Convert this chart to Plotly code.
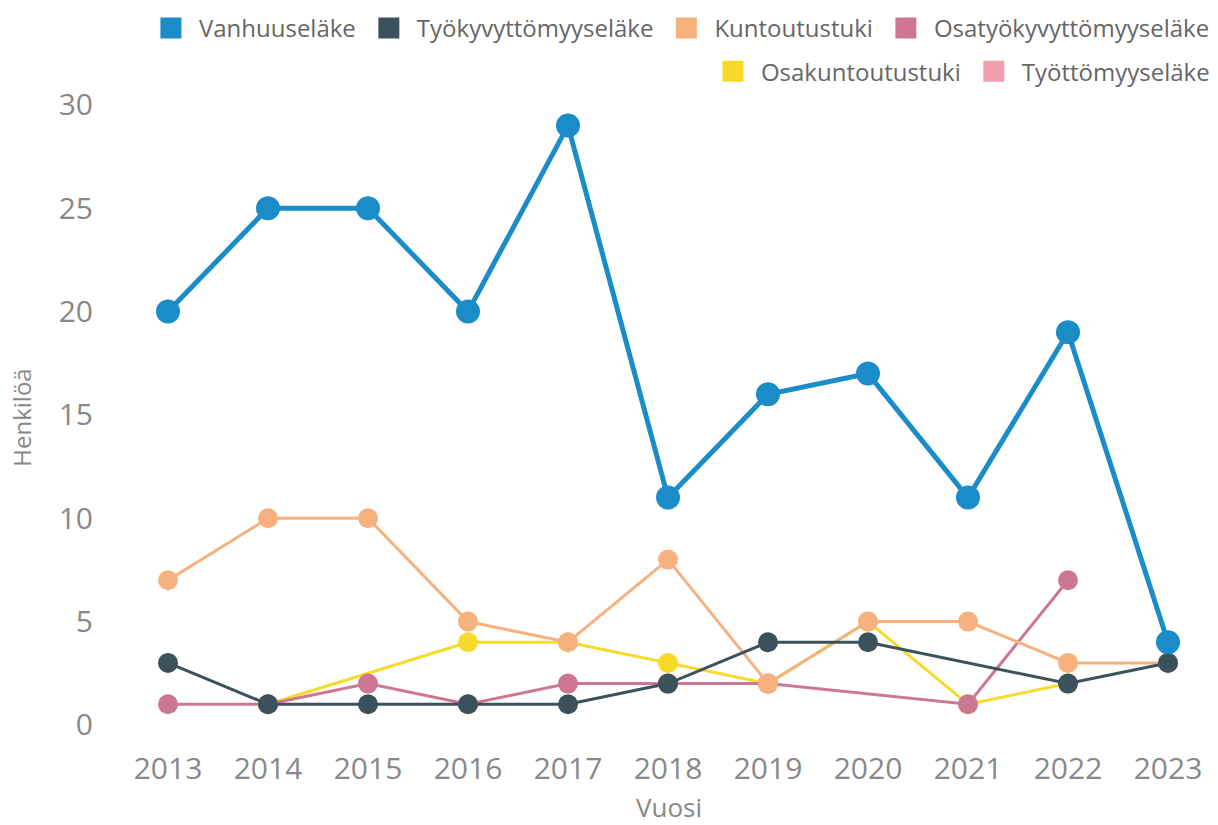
import plotly.graph_objects as go

years = [2013, 2014, 2015, 2016, 2017, 2018, 2019, 2020, 2021, 2022, 2023]

vanhuuselake = [20, 25, 25, 20, 29, 11, 16, 17, 11, 19, 4]
tyokyvyttomyyselake = [3, 1, 1, 1, 1, 2, 4, 4, None, 2, 3]
kuntoutustuki = [7, 10, 10, 5, 4, 8, 2, 5, 5, 3, 3]
osatyokyvyttomyyselake = [1, 1, 2, 1, 2, 2, 2, None, 1, 7, None]
osakuntoutustuki = [None, 1, None, 4, 4, 3, 2, 5, 1, 2, None]
tyottomyyselake = [None] * 11

names = ["Vanhuuseläke", "Työkyvyttömyyseläke", "Kuntoutustuki",
         "Osatyökyvyttömyyseläke", "Osakuntoutustuki", "Työttömyyseläke"]
colors = ["#1a8cc8", "#3b525c", "#f6b17f", "#cd7793", "#f7da2a", "#f2a0ae"]
series = [vanhuuselake, tyokyvyttomyyselake, kuntoutustuki,
          osatyokyvyttomyyselake, osakuntoutustuki, tyottomyyselake]

fig = go.Figure()

# draw order (bottom to top)
order = [5, 4, 3, 2, 1, 0]
for i in order:
    big = i == 0
    fig.add_trace(go.Scatter(
        x=years, y=series[i], name=names[i], mode="lines+markers",
        connectgaps=True, showlegend=False,
        line=dict(color=colors[i], width=5 if big else 3),
        marker=dict(color=colors[i], size=24 if big else 20),
    ))

# legend entries
for i in range(6):
    fig.add_trace(go.Scatter(
        x=[None], y=[None], name=names[i], mode="markers",
        marker=dict(color=colors[i], size=16, symbol="square",
                    line=dict(color=colors[i], width=5)),
        legend="legend" if i < 4 else "legend2",
    ))

legend_font = dict(family="Open Sans", size=24, color="#666")
fig.update_layout(
    width=1218, height=825,
    paper_bgcolor="white", plot_bgcolor="white",
    margin=dict(l=140, r=20, t=95, b=85, autoexpand=False),
    font=dict(family="Open Sans", color="#8a8a8a"),
    legend=dict(orientation="h", x=1.016, xanchor="right", y=1.138, yanchor="top",
                font=legend_font, itemwidth=46,
                itemsizing="trace", traceorder="normal"),
    legend2=dict(orientation="h", x=1.016, xanchor="right", y=1.071, yanchor="top",
                 font=legend_font, itemwidth=46,
                 itemsizing="trace", traceorder="normal"),
    xaxis=dict(range=[2012.72, 2023.3], tickvals=years, showgrid=False, zeroline=False,
               showline=False, ticks="", tickfont=dict(size=30, color="#888"),
               ticklabelstandoff=8,
               title=dict(text="Vuosi", font=dict(size=26, color="#888"), standoff=16)),
    yaxis=dict(range=[-0.73, 30.48], tickvals=[0, 5, 10, 15, 20, 25, 30], showgrid=False,
               zeroline=False, showline=False, ticks="", tickfont=dict(size=30, color="#888"),
               ticklabelstandoff=46,
               title=dict(text="Henkilöä", font=dict(size=24, color="#888"), standoff=20)),
)

fig.write_html("out.html", config={"displayModeBar": False},
               post_script="document.body.style.margin='0';")
